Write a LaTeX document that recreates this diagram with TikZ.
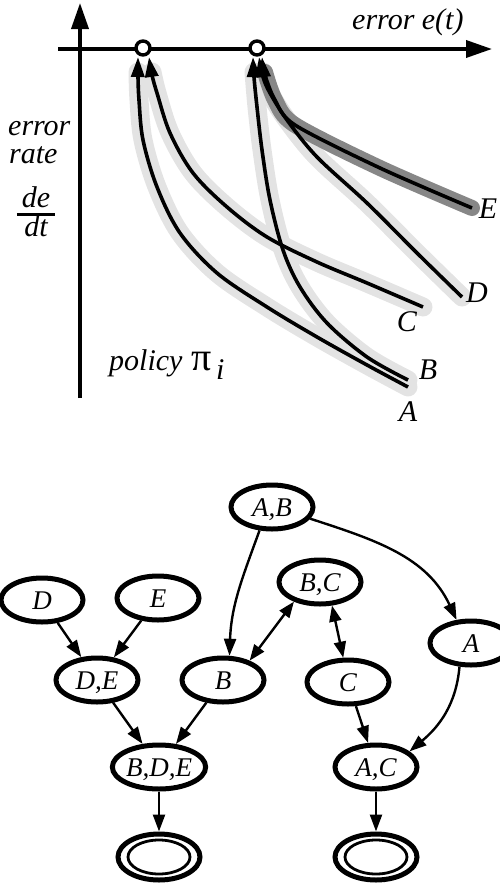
\documentclass[tikz,border=0pt]{standalone}
\usepackage{fontspec}
\setmainfont{Liberation Serif}
\usetikzlibrary{arrows.meta,shapes.geometric}
\begin{document}
\begin{tikzpicture}[x=1pt,y=-1pt,
  lbl/.style={font=\fontsize{30}{30}\selectfont\itshape, inner sep=0},
  st/.style={ellipse, draw, line width=5pt, minimum width=82pt, minimum height=44pt, inner sep=0,
    text height=18pt, text depth=0pt, font=\fontsize{27}{27}\selectfont\itshape},
  arr/.style={line width=2.4pt, -{Triangle[length=17pt,width=12pt]}},
  barr/.style={line width=2.4pt, {Triangle[length=16pt,width=12pt]}-{Triangle[length=16pt,width=12pt]}},
  crv/.style={line width=3.6pt, line join=round, -{Triangle[length=20pt,width=13pt]}},
  halo/.style={line width=19pt, color=black!11, line cap=round, line join=round},
  darkhalo/.style={line width=16pt, color=black!47, line cap=round, line join=round},
  axis/.style={line width=3.6pt, -{Triangle[length=26pt,width=17pt]}}
]
\useasboundingbox (0,0) rectangle (500,884);

% ---------- top plot ----------
\coordinate (vb) at (80,398);
\coordinate (vt) at (80,3);
\coordinate (hl) at (58,49);
\coordinate (hr) at (492,49);
\draw[axis] (vb) -- (vt);
\draw[axis] (hl) -- (hr);

% halos
\draw[halo] plot[smooth, tension=0.55] coordinates {(408,387) (367,365) (317,337) (267,307) (217,273) (180,233) (157,187) (143,140) (139,100) (138,72)};
\draw[halo] plot[smooth, tension=0.55] coordinates {(408,380) (367,357) (327,323) (300,287) (283,250) (270,200) (262,150) (257,107) (254,72)};
\draw[halo] plot[smooth, tension=0.55] coordinates {(423,307) (367,283) (317,262) (267,237) (227,207) (193,173) (170,133) (157,93) (152,72)};
\draw[halo] plot[smooth, tension=0.55] coordinates {(462,297) (417,253) (367,203) (317,157) (287,120) (270,93) (263,72)};
\draw[darkhalo] plot[smooth, tension=0.5] coordinates {(472,208) (380,168) (295,125) (275,100) (265,72)};

% circles on the axis
\node[circle, draw, fill=white, line width=3.4pt, minimum size=14pt, inner sep=0] (c1) at (143,48) {};
\node[circle, draw, fill=white, line width=3.4pt, minimum size=14pt, inner sep=0] (c2) at (257,48) {};

% curves
\draw[crv] plot[smooth, tension=0.55] coordinates {(408,387) (367,365) (317,337) (267,307) (217,273) (180,233) (157,187) (143,140) (139,100) (138,77) (138,57)};
\draw[crv] plot[smooth, tension=0.55] coordinates {(408,380) (367,357) (327,323) (300,287) (283,250) (270,200) (262,150) (257,107) (254,77) (253,57)};
\draw[crv] plot[smooth, tension=0.55] coordinates {(423,307) (367,283) (317,262) (267,237) (227,207) (193,173) (170,133) (157,93) (152,75) (149,57)};
\draw[crv] plot[smooth, tension=0.55] coordinates {(462,297) (417,253) (367,203) (317,157) (287,120) (270,93) (263,77) (259,57)};
\draw[crv] plot[smooth, tension=0.5] coordinates {(472,208) (380,168) (295,125) (275,100) (265,75) (262,57)};

% labels
\node[lbl, anchor=base west] (xlab) at (352,29) {error e(t)};
\node[lbl, anchor=base west] (ylab1) at (8,135) {error};
\node[lbl, anchor=base west] (ylab2) at (9,163) {rate};
\node[lbl, anchor=base] (frac) at (36,207)
  {\setlength{\arrayrulewidth}{2.4pt}\def\arraystretch{0.72}%
   \begin{tabular}[t]{@{\,}c@{\,}}de\\\hline dt\end{tabular}};
\node[lbl, anchor=base west] (pol) at (109,370) {policy};
\node[font=\fontsize{40}{40}\selectfont, inner sep=0, anchor=base west] (pi) at (191,370) {π};
\node[lbl, anchor=base west] (sub) at (216,379) {i};
\node[lbl] (lA) at (408,412) {A};
\node[lbl] (lB) at (428,370) {B};
\node[lbl] (lC) at (407,322) {C};
\node[lbl] (lD) at (477,293) {D};
\node[lbl] (lE) at (488,209) {E};

% ---------- bottom graph ----------
\node[st] (AB) at (272,507) {A,B};
\node[st] (D) at (42,600) {D};
\node[st] (E) at (158,598) {E};
\node[st] (BC) at (320,582) {B,C};
\node[st] (A) at (471,643) {A};
\node[st] (DE) at (97,680) {D,E};
\node[st] (B) at (223,680) {B};
\node[st] (C) at (348,682) {C};
\node[st] (BDE) at (159,767) {B,D,E};
\node[st] (AC) at (376,767) {A,C};
\node[st, minimum height=46pt] (F1) at (159,857) {};
\node[st, minimum height=46pt] (F2) at (376,857) {};
\draw[line width=2.8pt] (F1.center) ellipse (31 and 17);
\draw[line width=2.8pt] (F2.center) ellipse (31 and 17);

\draw[arr] (AB.242) to[out=250,in=88] (B.75);
\draw[arr] (AB.-17) to[out=-18,in=115] (A.122);
\draw[barr] (BC.217) -- (B.36);
\draw[barr] (BC.-63) -- (C.101);
\draw[arr] (D) -- (DE);
\draw[arr] (E) -- (DE);
\draw[arr] (DE) -- (BDE);
\draw[arr] (B) -- (BDE);
\draw[arr] (C) -- (AC);
\draw[arr] (A.244) to[out=265,in=40] (AC.25);
\draw[arr] (BDE) -- (F1);
\draw[arr] (AC) -- (F2);
\end{tikzpicture}
\end{document}
